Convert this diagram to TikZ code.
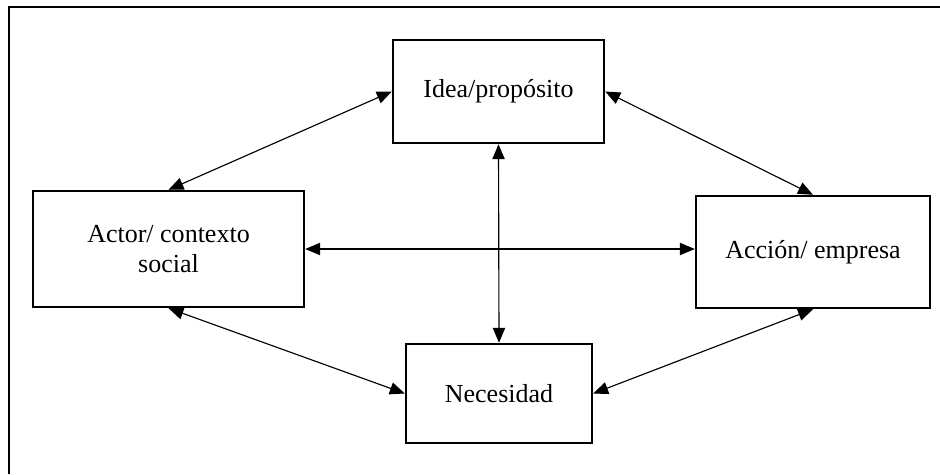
\documentclass[tikz,border=0pt]{standalone}
\usepackage{fontspec}
\setmainfont{Liberation Serif}
\usetikzlibrary{arrows.meta}

\begin{document}
\begin{tikzpicture}[x=0.02cm,y=-0.02cm,
	caja/.style={draw,line width=1.4pt,align=center,inner sep=0pt,font=\fontsize{14.8}{17.6}\selectfont},
	flecha/.style={{Triangle[length=8.5pt,width=7pt]}-{Triangle[length=8.5pt,width=7pt]},line width=0.65pt}]
	\useasboundingbox (0,0) rectangle (940,474);
	\draw[line width=1.7pt] (9,474) -- (9,7) -- (940,7);
	
	\node[caja,minimum width=4.22cm,minimum height=2.06cm] (idea) at (498.5,91.5) {Idea/propósito};
	\node[caja,minimum width=5.42cm,minimum height=2.32cm] (actor) at (168.5,249) {Actor/ contexto\\social};
	\node[caja,minimum width=4.68cm,minimum height=2.24cm] (accion) at (813,252) {Acción/ empresa};
	\node[caja,minimum width=3.72cm,minimum height=1.98cm] (necesidad) at (499,393.5) {Necesidad};
	
	\draw[flecha] (actor.north) -- (idea.west);
	\draw[flecha] (idea.east) -- (accion.north);
	\draw[flecha] (actor.east) -- (actor.east -| accion.west);
	\draw[flecha] (idea.south) -- (necesidad.north);
	\draw[flecha] (actor.south) -- (necesidad.west);
	\draw[flecha] (necesidad.east) -- (accion.south);
	
\end{tikzpicture}
\end{document}
